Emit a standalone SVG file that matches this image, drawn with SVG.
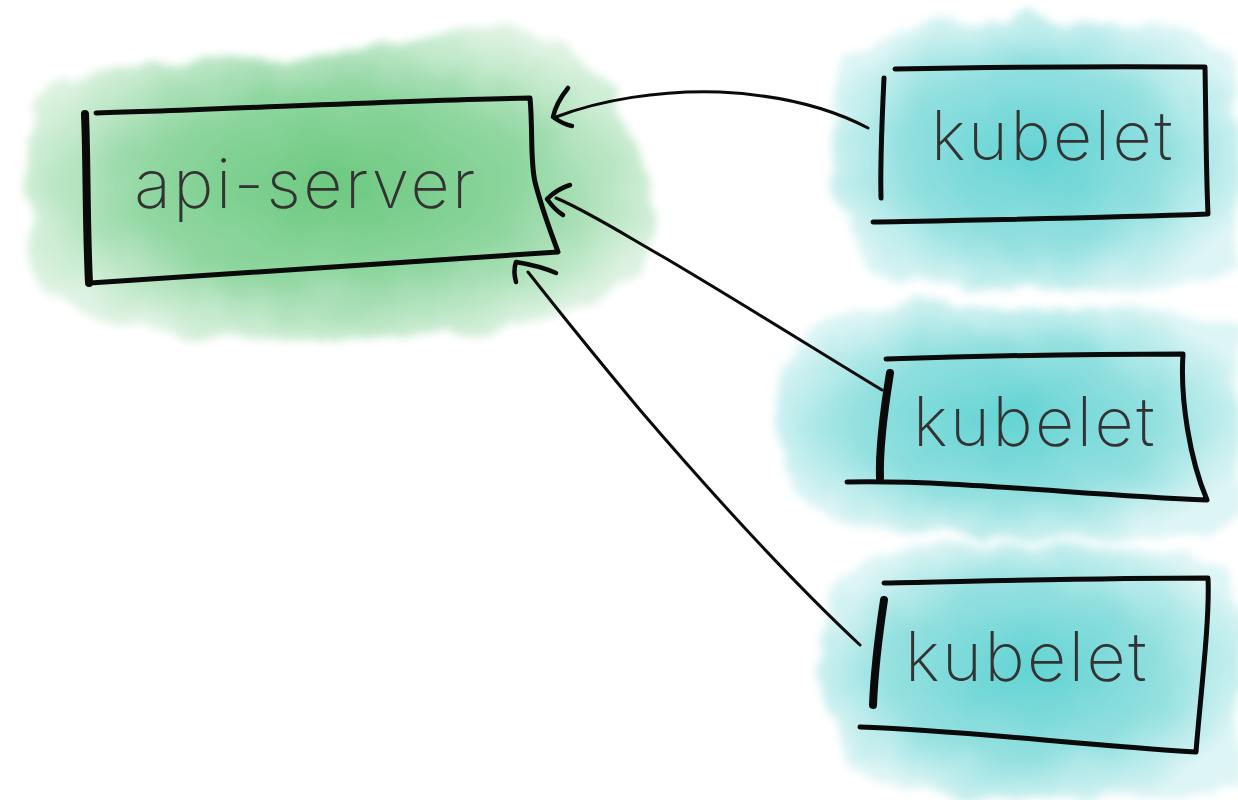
<svg xmlns="http://www.w3.org/2000/svg" width="1238" height="800" viewBox="0 0 1238 800">
<defs>
<radialGradient id="gGreen" cx="0.5" cy="0.5" r="0.55">
<stop offset="0" stop-color="#6cc97f"/>
<stop offset="0.55" stop-color="#8fd6a0"/>
<stop offset="1" stop-color="#dff3e3"/>
</radialGradient>
<radialGradient id="gCyan" cx="0.5" cy="0.5" r="0.55">
<stop offset="0" stop-color="#62d3d3"/>
<stop offset="0.6" stop-color="#94e0e0"/>
<stop offset="1" stop-color="#def5f5"/>
</radialGradient>
<filter id="wash" x="-10%" y="-10%" width="120%" height="120%">
<feTurbulence type="fractalNoise" baseFrequency="0.02" numOctaves="3" seed="4"/>
<feDisplacementMap in="SourceGraphic" scale="30" xChannelSelector="R" yChannelSelector="G"/>
<feGaussianBlur stdDeviation="4"/>
</filter>
<style>
.box{fill:none;stroke:#0a0a0a;stroke-width:5;stroke-linecap:round;stroke-linejoin:round}
.thick{fill:none;stroke:#0a0a0a;stroke-width:8;stroke-linecap:round}
.edge{fill:none;stroke:#0a0a0a;stroke-width:3;stroke-linecap:round;stroke-linejoin:round}
.head{fill:none;stroke:#0a0a0a;stroke-width:4.5;stroke-linecap:round;stroke-linejoin:round}
.lbl{font-family:Inter,"Liberation Sans",Arial,sans-serif;font-size:68px;fill:#333;font-weight:200;letter-spacing:2.5px}
</style>
</defs>
<g id="washes" filter="url(#wash)">
<path d="M40,95 C60,70 140,62 240,60 C320,58 380,45 440,35 C500,25 560,30 590,70 C620,110 660,170 650,240 C640,300 560,330 450,330 C360,335 260,345 170,335 C80,325 30,300 25,230 C20,170 25,120 40,95 Z" fill="url(#gGreen)"/>
<path d="M845,60 C870,20 950,15 1050,20 C1140,25 1230,30 1238,60 L1238,270 C1180,295 1050,295 950,285 C880,280 840,250 835,190 C830,130 830,90 845,60 Z" fill="url(#gCyan)"/>
<path d="M800,340 C830,300 920,300 1030,305 C1130,308 1230,310 1238,330 L1238,520 C1180,545 1050,540 930,535 C850,530 790,520 780,450 C775,400 780,370 800,340 Z" fill="url(#gCyan)"/>
<path d="M840,580 C880,545 960,540 1060,545 C1150,548 1230,555 1238,580 L1238,790 C1180,800 1050,800 940,795 C870,790 830,770 825,700 C820,640 820,610 840,580 Z" fill="url(#gCyan)"/>
</g>
<g id="connectors">
<path class="edge" d="M868,128 C830,108 780,95 720,92 C660,90 600,100 556,117"/>
<path class="head" d="M568,88 C560,98 555,108 553,117 C560,122 566,125 572,126"/>
<path class="edge" d="M882,390 C800,340 720,290 660,255 C620,232 585,210 556,198"/>
<path class="head" d="M570,185 C560,188 552,194 547,199 C552,206 558,212 563,215"/>
<path class="edge" d="M860,645 C780,570 700,480 640,410 C590,350 550,300 528,272"/>
<path class="head" d="M516,282 C514,275 514,268 516,262 C528,264 545,268 556,273"/>
</g>
<g id="api-server">
<path class="box" d="M96,113 C220,110 400,100 530,98 C533,130 530,160 535,182 C542,210 552,235 558,252 C420,260 260,272 90,283"/>
<path class="thick" d="M85,114 C87,160 86,220 89,283"/>
<text class="lbl" x="306" y="208" text-anchor="middle">api-server</text>
</g>
<g id="kubelet-1">
<path class="box" d="M895,69 C1000,67 1100,66 1205,67 C1206,120 1206,170 1208,214 C1100,218 980,220 873,222"/>
<path class="box" d="M884,78 C882,120 880,160 881,198"/>
<text class="lbl" x="1053" y="160" text-anchor="middle">kubelet</text>
</g>
<g id="kubelet-2">
<path class="box" d="M886,359 C980,356 1080,354 1183,354 C1180,400 1190,460 1207,500 C1080,495 960,480 847,482"/>
<path class="thick" d="M890,373 C884,410 879,450 880,478"/>
<text class="lbl" x="1035" y="446" text-anchor="middle">kubelet</text>
</g>
<g id="kubelet-3">
<path class="box" d="M884,583 C990,581 1100,578 1208,578 C1210,620 1200,700 1196,752 C1080,745 960,730 860,727"/>
<path class="thick" d="M884,600 C878,640 874,680 873,705"/>
<text class="lbl" x="1027" y="681" text-anchor="middle">kubelet</text>
</g>
</svg>
